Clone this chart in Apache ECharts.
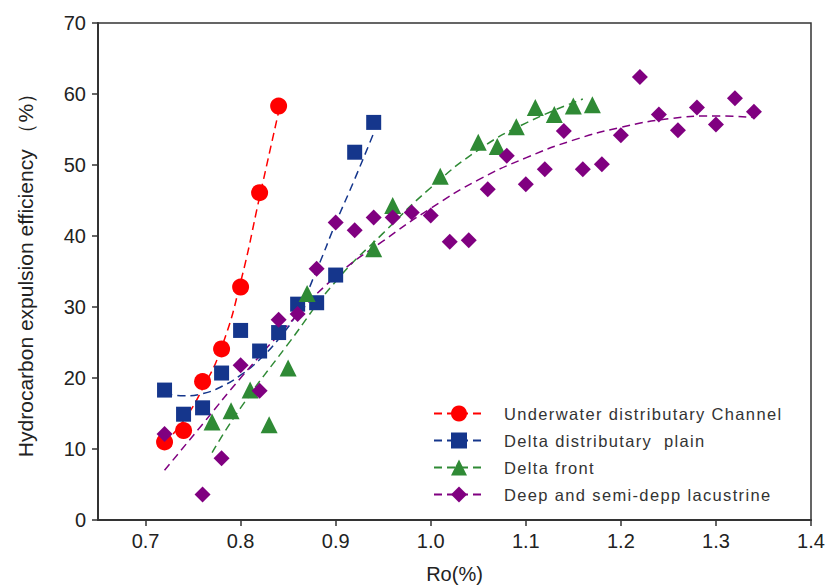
<!DOCTYPE html>
<html><head><meta charset="utf-8">
<script src="https://cdn.jsdelivr.net/npm/echarts@6/dist/echarts.min.js"></script>
<style>html,body{margin:0;padding:0;background:#fff}#c{width:826px;height:586px}</style>
</head><body><div id="c"></div>
<script>
// Category names
var names = ['Underwater distributary Channel', 'Delta distributary  plain', 'Delta front', 'Deep and semi-depp lacustrine'];
var colors = ['#ff0000', '#15368c', '#2f8a35', '#800080'];
var symbols = ['circle', 'rect', 'triangle', 'diamond'];
var yTitle = 'Hydrocarbon expulsion efficiency \uFF08%\uFF09';
var xTitle = 'Ro(%)';

// Measured points [Ro, efficiency]
var channelPts = [[0.72,11.0],[0.74,12.6],[0.76,19.5],[0.78,24.1],[0.80,32.8],[0.82,46.1],[0.84,58.3]];
var plainPts = [[0.72,18.3],[0.74,14.9],[0.76,15.8],[0.78,20.7],[0.80,26.7],[0.82,23.8],[0.84,26.4],[0.86,30.4],[0.88,30.6],[0.90,34.5],[0.92,51.8],[0.94,56.0]];
var frontPts = [[0.77,13.8],[0.79,15.4],[0.81,18.3],[0.83,13.4],[0.85,21.4],[0.87,31.9],[0.94,38.2],[0.96,44.3],[1.01,48.4],[1.05,53.2],[1.07,52.6],[1.09,55.4],[1.11,58.1],[1.13,57.1],[1.15,58.3],[1.17,58.5]];
var lacustrinePts = [[0.72,12.1],[0.76,3.6],[0.78,8.7],[0.80,21.8],[0.82,18.2],[0.84,28.2],[0.86,29.0],[0.88,35.4],[0.90,41.9],[0.92,40.8],[0.94,42.6],[0.96,42.6],[0.98,43.3],[1.00,42.9],[1.02,39.2],[1.04,39.4],[1.06,46.6],[1.08,51.3],[1.10,47.3],[1.12,49.4],[1.14,54.8],[1.16,49.4],[1.18,50.1],[1.20,54.2],[1.22,62.4],[1.24,57.1],[1.26,54.9],[1.28,58.1],[1.30,55.7],[1.32,59.4],[1.34,57.5]];

// Trend curves
var channelTrend = [[0.72,10.8],[0.74,14.0],[0.76,18.5],[0.78,24.3],[0.80,33.5],[0.82,45.5],[0.84,57.5]];
var plainTrend = [[0.72,17.9],[0.74,17.5],[0.76,17.8],[0.78,18.8],[0.80,20.4],[0.82,22.6],[0.84,25.5],[0.86,29.3],[0.88,35.2],[0.90,41.8],[0.92,48.0],[0.94,54.5]];
var frontTrend = [[0.77,9.5],[0.80,15.8],[0.85,24.8],[0.90,33.6],[0.95,40.4],[1.00,46.8],[1.05,52.1],[1.10,55.9],[1.16,59.3]];
var lacustrineTrend = [[0.72,7.0],[0.76,13.5],[0.80,20.0],[0.85,27.5],[0.90,34.3],[0.95,39.3],[1.00,43.9],[1.05,47.9],[1.10,51.0],[1.15,53.5],[1.20,55.3],[1.25,56.5],[1.30,56.9],[1.34,56.7]];

var pts = [channelPts, plainPts, frontPts, lacustrinePts];
var trends = [channelTrend, plainTrend, frontTrend, lacustrineTrend];

var font = 'Liberation Sans, Arial, sans-serif';
var series = [];
for (var i = 0; i < 4; i++) {
  series.push({
    name: names[i], type: 'line', data: trends[i], smooth: true,
    symbol: symbols[i], showSymbol: false, silent: true,
    lineStyle: {color: colors[i], width: 1.5, type: [8, 5]},
    itemStyle: {color: colors[i]}, z: 2
  });
}
var sizes = [17, 15, 17, 16];
for (var j = 0; j < 4; j++) {
  series.push({
    name: names[j], type: 'scatter', data: pts[j], symbol: symbols[j],
    symbolSize: sizes[j], itemStyle: {color: colors[j], opacity: 1}, z: 3
  });
}

var chart = echarts.init(document.getElementById('c'), null, {renderer: 'svg'});
chart.setOption({
  animation: false,
  backgroundColor: '#fff',
  textStyle: {fontFamily: font},
  grid: {left: 98, right: 15, top: 23, bottom: 66, show: true, borderColor: '#333', borderWidth: 1.5,
    containLabel: false, outerBoundsMode: 'none'},
  xAxis: {
    type: 'value', min: 0.65, max: 1.4, splitNumber: 7, minInterval: 0.1, maxInterval: 0.1,
    name: xTitle, nameLocation: 'middle', nameGap: 44,
    nameTextStyle: {fontSize: 20, color: '#222', fontFamily: font},
    axisLine: {show: true, lineStyle: {color: '#333', width: 2}},
    axisTick: {show: true, inside: false, length: 6, lineStyle: {color: '#333', width: 1.5}},
    axisLabel: {fontSize: 20, color: '#222', margin: 11, fontFamily: font, showMinLabel: false,
      formatter: function (v) { return (Math.abs(v * 10 - Math.round(v * 10)) < 1e-6) ? v.toFixed(1) : ''; }},
    splitLine: {show: false}
  },
  yAxis: {
    type: 'value', min: 0, max: 70, interval: 10,
    axisLine: {show: true, lineStyle: {color: '#333', width: 2}},
    axisTick: {show: true, inside: false, length: 6, lineStyle: {color: '#333', width: 1.5}},
    axisLabel: {fontSize: 20, color: '#222', margin: 12, fontFamily: font},
    splitLine: {show: false}
  },
  graphic: [{
    type: 'text', x: 25, y: 270, rotation: Math.PI / 2, silent: true,
    style: {text: yTitle, fill: '#222', font: '21px Liberation Sans, Arial, sans-serif', align: 'center', verticalAlign: 'middle'}
  }],
  legend: {
    data: names, orient: 'vertical', left: 428, top: 400,
    itemWidth: 50, itemHeight: 20, itemGap: 10,
    textStyle: {fontSize: 16.5, color: '#333', fontFamily: font, padding: [0, 0, 0, 15]},
    selectedMode: false
  },
  series: series
});
function spaceLegend() {
  var texts = document.querySelectorAll('#c svg text');
  for (var k = 0; k < texts.length; k++) {
    if (names.indexOf(texts[k].textContent) >= 0) texts[k].style.letterSpacing = '1.35px';
  }
}
chart.on('finished', spaceLegend);
spaceLegend();
setTimeout(spaceLegend, 50);
</script></body></html>
